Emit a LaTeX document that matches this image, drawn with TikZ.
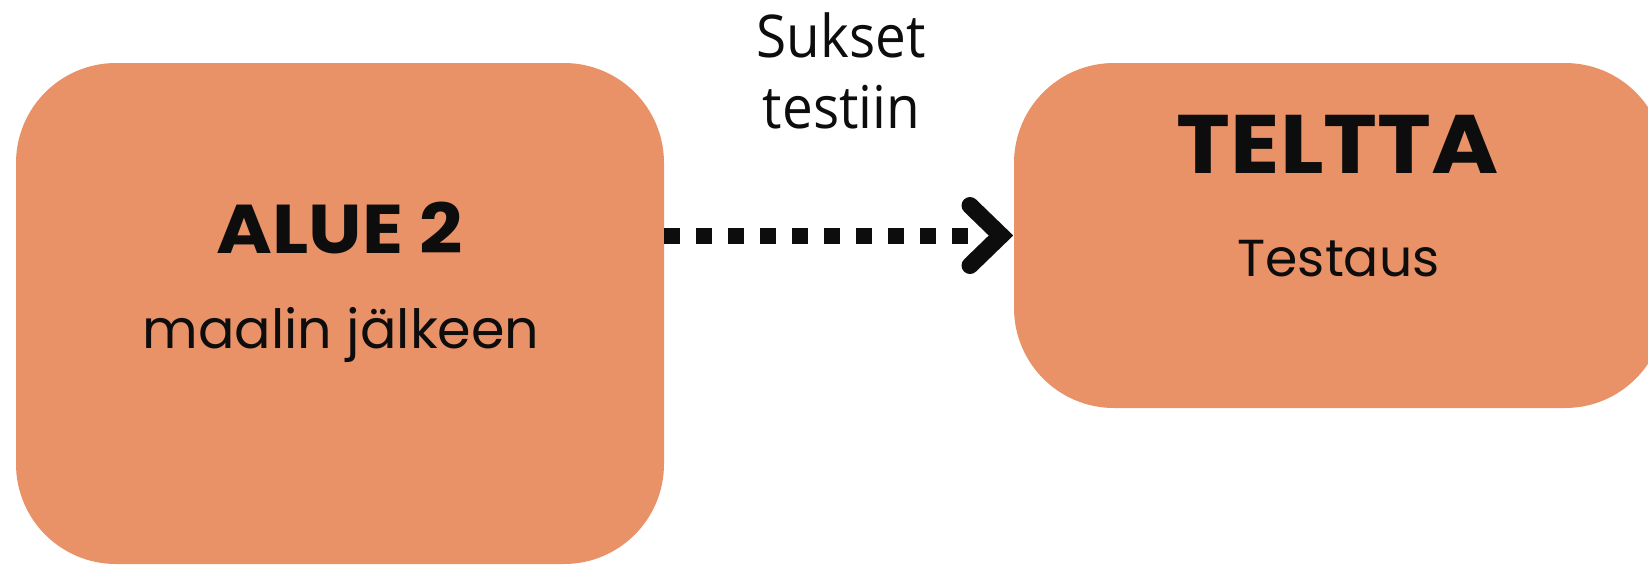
\documentclass[tikz,border=0pt]{standalone}
\usepackage{fontspec}
\newfontfamily\pop{Poppins}
\newfontfamily\popwide{Poppins}[FakeStretch=1.1]
\newfontfamily\opensans{Open Sans}[FakeStretch=0.93]
\definecolor{boxorange}{HTML}{E99268}
\definecolor{ink}{HTML}{0D0D0D}
\begin{document}
\begin{tikzpicture}[x=1pt,y=-1pt,
  box/.style={fill=boxorange,draw=none,rounded corners=100pt,inner sep=0pt,outer sep=0pt},
  title/.style={anchor=base,inner sep=0pt,text=ink},
  sub/.style={anchor=base,inner sep=0pt,text=ink},
  lbl/.style={anchor=base,inner sep=0pt,text=ink,font=\opensans\fontsize{59}{71}\selectfont},
  dots/.style={line width=16pt,dash pattern=on 16pt off 16pt,ink},
  chev/.style={line width=17pt,line cap=round,line join=miter,ink}]
\useasboundingbox (0,0) rectangle (1648,566);
\node[box,minimum width=648pt,minimum height=501pt] (L) at (340,313.5) {};
\node[box,minimum width=651pt,minimum height=345pt] (R) at (1339.5,235.5) {};
\node[title,font=\popwide\bfseries\fontsize{69}{80}\selectfont] (t1) at (339.5,253) {ALUE 2};
\node[sub,font=\pop\fontsize{54}{65}\selectfont] (s1) at (341,348) {maalin jälkeen};
\node[title,font=\popwide\bfseries\fontsize{83}{96}\selectfont] (t2) at (1338,173) {TELTTA};
\node[sub,font=\pop\fontsize{52}{62}\selectfont] (s2) at (1338.5,276) {Testaus};
\node[lbl] (l1) at (841,57) {Sukset};
\node[lbl] (l2) at (841.5,128) {testiin};
\draw[dots] (L.east |- R.west) -- ++(304,0);
\draw[chev] (R.west) ++(-44,-30) -- ++(31,30) -- ++(-31,30);
\end{tikzpicture}
\end{document}
